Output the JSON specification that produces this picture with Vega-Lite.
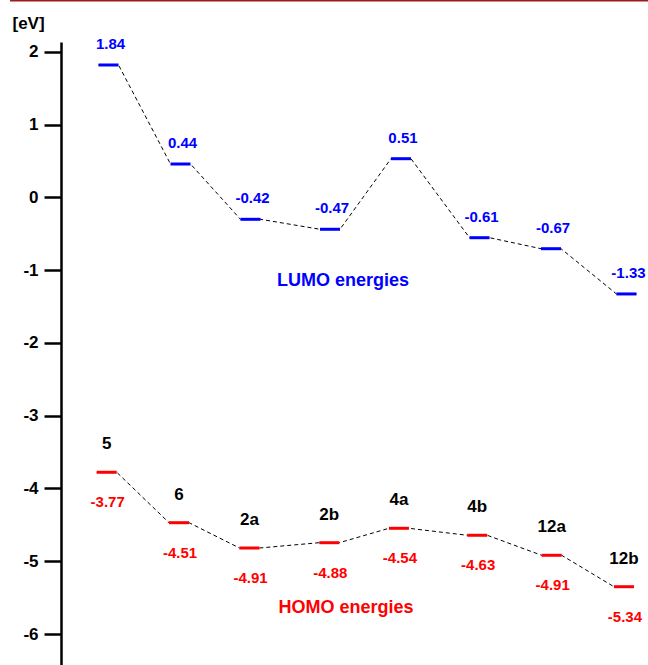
{
  "$schema": "https://vega.github.io/schema/vega-lite/v6.json",
  "width": 587,
  "height": 623,
  "autosize": {"type": "none"},
  "padding": {"left": 61, "top": 42, "right": 0, "bottom": 0},
  "background": "white",
  "config": {
    "font": "Liberation Sans",
    "view": {"stroke": null},
    "locale": {"number": {"decimal": ".", "thousands": ",", "grouping": [3], "currency": ["$", ""], "minus": "-"}}
  },
  "data": {"values": [
    {"mol": "5", "orb": "LUMO", "E": 1.84, "y": 1.821, "xs": 0.521, "xe": 0.799},
    {"mol": "6", "orb": "LUMO", "E": 0.44, "y": 0.460, "xs": 1.521, "xe": 1.799},
    {"mol": "2a", "orb": "LUMO", "E": -0.42, "y": -0.300, "xs": 2.493, "xe": 2.771},
    {"mol": "2b", "orb": "LUMO", "E": -0.47, "y": -0.437, "xs": 3.597, "xe": 3.875},
    {"mol": "4a", "orb": "LUMO", "E": 0.51, "y": 0.533, "xs": 4.583, "xe": 4.861},
    {"mol": "4b", "orb": "LUMO", "E": -0.61, "y": -0.553, "xs": 5.674, "xe": 5.952},
    {"mol": "12a", "orb": "LUMO", "E": -0.67, "y": -0.704, "xs": 6.667, "xe": 6.945},
    {"mol": "12b", "orb": "LUMO", "E": -1.33, "y": -1.326, "xs": 7.715, "xe": 7.993},
    {"mol": "5", "orb": "HOMO", "E": -3.77, "y": -3.777, "xs": 0.496, "xe": 0.774},
    {"mol": "6", "orb": "HOMO", "E": -4.51, "y": -4.470, "xs": 1.500, "xe": 1.778},
    {"mol": "2a", "orb": "HOMO", "E": -4.91, "y": -4.818, "xs": 2.479, "xe": 2.757},
    {"mol": "2b", "orb": "HOMO", "E": -4.88, "y": -4.745, "xs": 3.587, "xe": 3.865},
    {"mol": "4a", "orb": "HOMO", "E": -4.54, "y": -4.547, "xs": 4.555, "xe": 4.833},
    {"mol": "4b", "orb": "HOMO", "E": -4.63, "y": -4.643, "xs": 5.642, "xe": 5.920},
    {"mol": "12a", "orb": "HOMO", "E": -4.91, "y": -4.918, "xs": 6.676, "xe": 6.954},
    {"mol": "12b", "orb": "HOMO", "E": -5.34, "y": -5.350, "xs": 7.680, "xe": 7.958}
  ]},
  "resolve": {"scale": {"x": "shared", "y": "shared"}},
  "layer": [
    {
      "transform": [{"fold": ["xs", "xe"], "as": ["end", "xv"]}],
      "mark": {"type": "line", "stroke": "black", "strokeWidth": 1, "strokeDash": [4, 3]},
      "encoding": {
        "x": {"field": "xv", "type": "quantitative", "scale": {"domain": [0, 8.153], "nice": false, "zero": false}, "axis": null},
        "y": {"field": "y", "type": "quantitative", "scale": {"domain": [-6.426, 2.137], "nice": false, "zero": false},
          "axis": {
            "values": [-6, -5, -4, -3, -2, -1, 0, 1, 2],
            "format": "d",
            "grid": false,
            "domainColor": "black", "domainWidth": 2.5,
            "tickColor": "black", "tickWidth": 2.5, "tickSize": 17,
            "labelPadding": 6, "labelFontSize": 17, "labelFontWeight": "bold", "labelColor": "black",
            "title": "[eV]", "titleAngle": 0, "titleX": -49, "titleY": -14,
            "titleAlign": "left", "titleBaseline": "alphabetic",
            "titleFontSize": 17, "titleFontWeight": "bold", "titleColor": "black"
          }},
        "detail": {"field": "orb"},
        "order": {"field": "xv", "type": "quantitative"}
      }
    },
    {
      "mark": {"type": "rule", "strokeWidth": 3, "strokeCap": "butt"},
      "encoding": {
        "x": {"field": "xs", "type": "quantitative"},
        "x2": {"field": "xe"},
        "y": {"field": "y", "type": "quantitative"},
        "color": {"field": "orb", "type": "nominal", "scale": {"domain": ["LUMO", "HOMO"], "range": ["#0000ff", "#ff0000"]}, "legend": null}
      }
    },
    {
      "transform": [{"filter": "datum.orb == 'LUMO'"}],
      "mark": {"type": "text", "align": "center", "baseline": "alphabetic", "dx": 12, "dy": -16, "fontSize": 15, "fontWeight": "bold", "color": "#0000ff"},
      "encoding": {
        "x": {"field": "xs", "type": "quantitative"},
        "y": {"field": "y", "type": "quantitative"},
        "text": {"field": "E", "type": "quantitative", "format": ".2f"}
      }
    },
    {
      "transform": [{"filter": "datum.orb == 'HOMO'"}],
      "mark": {"type": "text", "align": "center", "baseline": "alphabetic", "dx": 11, "dy": 35, "fontSize": 15, "fontWeight": "bold", "color": "#ff0000"},
      "encoding": {
        "x": {"field": "xs", "type": "quantitative"},
        "y": {"field": "y", "type": "quantitative"},
        "text": {"field": "E", "type": "quantitative", "format": ".2f"}
      }
    },
    {
      "transform": [{"filter": "datum.orb == 'HOMO'"}],
      "mark": {"type": "text", "align": "center", "baseline": "alphabetic", "dx": 10, "dy": -23, "fontSize": 17, "fontWeight": "bold", "color": "black"},
      "encoding": {
        "x": {"field": "xs", "type": "quantitative"},
        "y": {"field": "y", "type": "quantitative"},
        "text": {"field": "mol", "type": "nominal"}
      }
    },
    {
      "data": {"values": [{}]},
      "mark": {"type": "text", "align": "center", "baseline": "alphabetic", "fontSize": 18, "fontWeight": "bold", "color": "#0000ff", "text": "LUMO energies"},
      "encoding": {
        "x": {"datum": 3.917, "type": "quantitative"},
        "y": {"datum": -1.216, "type": "quantitative"}
      }
    },
    {
      "data": {"values": [{}]},
      "mark": {"type": "text", "align": "center", "baseline": "alphabetic", "fontSize": 18, "fontWeight": "bold", "color": "#ff0000", "text": "HOMO energies"},
      "encoding": {
        "x": {"datum": 3.958, "type": "quantitative"},
        "y": {"datum": -5.711, "type": "quantitative"}
      }
    },
    {
      "data": {"values": [{}]},
      "mark": {"type": "rule", "strokeWidth": 2.5, "color": "#9b1c20", "strokeCap": "butt"},
      "encoding": {
        "x": {"datum": -0.708, "type": "quantitative"},
        "x2": {"datum": 8.153},
        "y": {"datum": 2.71, "type": "quantitative"}
      }
    }
  ]
}
